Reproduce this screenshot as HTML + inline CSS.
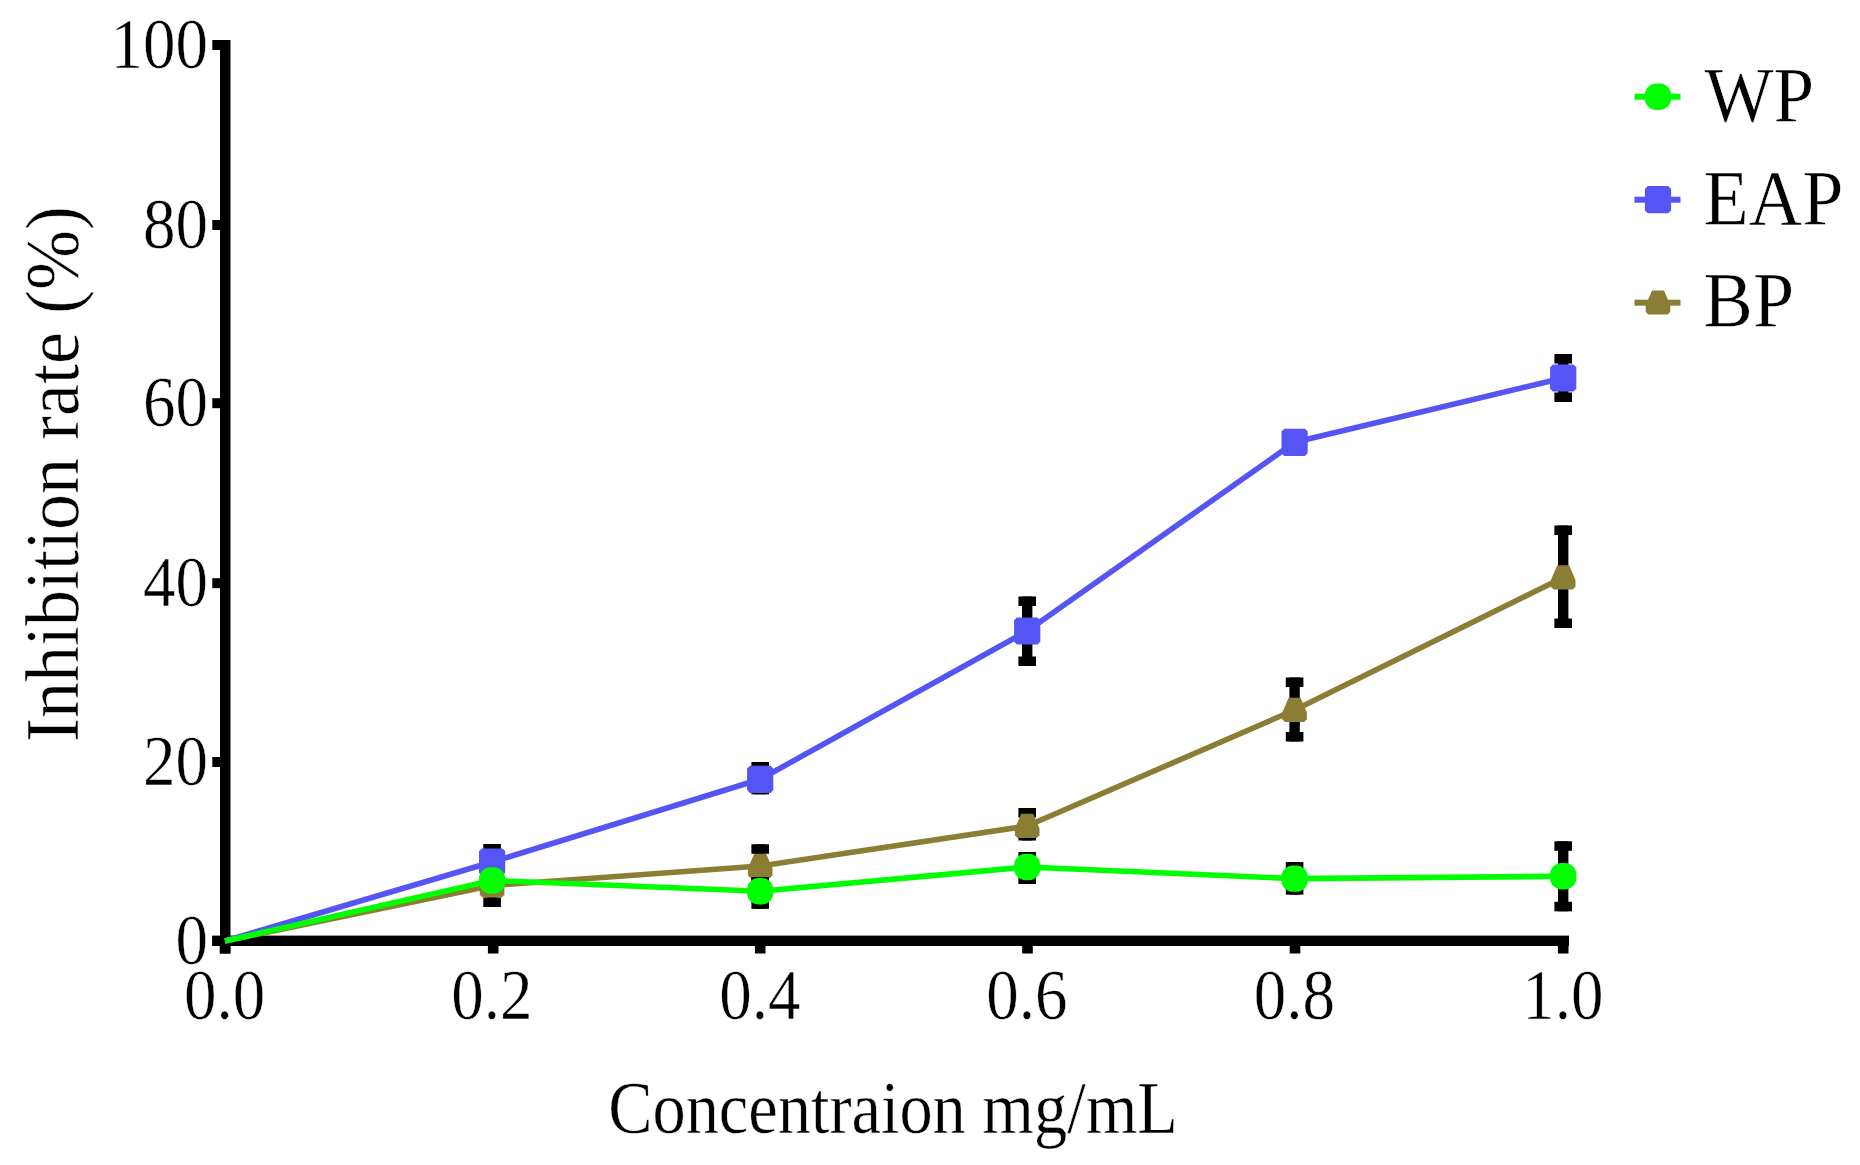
<!DOCTYPE html>
<html lang="en"><head><meta charset="utf-8"><title>Inhibition rate chart</title>
<style>
html,body{margin:0;padding:0;background:#fff;}
body{width:1860px;height:1165px;overflow:hidden;}
svg{display:block;filter:blur(0.6px);font-family:"Liberation Serif","Times New Roman",serif;}
</style></head><body>
<svg width="1860" height="1165" viewBox="0 0 1860 1165">
<rect width="1860" height="1165" fill="#fff"/>
<g fill="#000">
<rect x="220" y="40" width="10.5" height="913.5"/>
<rect x="212.3" y="935.6" width="1356.7" height="10.4"/>
<rect x="212.3" y="936.0" width="10" height="10"/>
<rect x="212.3" y="757.0" width="10" height="10"/>
<rect x="212.3" y="578.2" width="10" height="10"/>
<rect x="212.3" y="398.2" width="10" height="10"/>
<rect x="212.3" y="220.0" width="10" height="10"/>
<rect x="212.3" y="40.0" width="10" height="10"/>
<rect x="219.7" y="940" width="10.6" height="13.5"/>
<rect x="487.9" y="940" width="10.6" height="13.5"/>
<rect x="754.9" y="940" width="10.6" height="13.5"/>
<rect x="1022.2" y="940" width="10.6" height="13.5"/>
<rect x="1289.7" y="940" width="10.6" height="13.5"/>
<rect x="1557.9" y="940" width="10.6" height="13.5"/>
</g>
<g fill="#000"><rect x="486.9" y="862.5" width="10.4" height="44.5"/><rect x="483.3" y="862.5" width="17.6" height="9.5"/><rect x="483.3" y="897.5" width="17.6" height="9.5"/><rect x="755.0" y="844.3" width="10.4" height="42.7"/><rect x="751.4" y="844.3" width="17.6" height="9.5"/><rect x="751.4" y="877.5" width="17.6" height="9.5"/><rect x="1022.0" y="808.0" width="10.4" height="32.5"/><rect x="1018.4" y="808.0" width="17.6" height="9.5"/><rect x="1018.4" y="831.0" width="17.6" height="9.5"/><rect x="1289.4" y="677.5" width="10.4" height="64.0"/><rect x="1285.8" y="677.5" width="17.6" height="9.5"/><rect x="1285.8" y="732.0" width="17.6" height="9.5"/><rect x="1558.0" y="525.5" width="10.4" height="102.5"/><rect x="1554.4" y="525.5" width="17.6" height="9.5"/><rect x="1554.4" y="618.5" width="17.6" height="9.5"/></g>
<polyline points="225.0,941.0 492.1,885.5 760.2,866.0 1027.2,826.0 1294.6,710.0 1563.2,577.5" fill="none" stroke="#8c7d35" stroke-width="5.6" stroke-linejoin="round"/>
<polygon points="486.1,873.3 498.1,873.3 504.4,888.0 504.4,894.7 501.7,897.4 482.5,897.4 479.8,894.7 479.8,888.0" fill="#8c7d35"/><polygon points="754.2,853.8 766.2,853.8 772.5,868.5 772.5,875.2 769.8,877.9 750.6,877.9 747.9,875.2 747.9,868.5" fill="#8c7d35"/><polygon points="1021.2,813.8 1033.2,813.8 1039.5,828.5 1039.5,835.2 1036.8,837.9 1017.6,837.9 1014.9,835.2 1014.9,828.5" fill="#8c7d35"/><polygon points="1288.6,697.8 1300.6,697.8 1306.9,712.5 1306.9,719.2 1304.2,721.9 1285.0,721.9 1282.3,719.2 1282.3,712.5" fill="#8c7d35"/><polygon points="1557.2,565.3 1569.2,565.3 1575.5,580.0 1575.5,586.7 1572.8,589.4 1553.6,589.4 1550.9,586.7 1550.9,580.0" fill="#8c7d35"/>
<g fill="#000"><rect x="486.9" y="844.0" width="10.4" height="36.0"/><rect x="483.3" y="844.0" width="17.6" height="9.5"/><rect x="483.3" y="870.5" width="17.6" height="9.5"/><rect x="755.0" y="762.0" width="10.4" height="32.3"/><rect x="751.4" y="762.0" width="17.6" height="9.5"/><rect x="751.4" y="784.8" width="17.6" height="9.5"/><rect x="1022.0" y="596.5" width="10.4" height="69.5"/><rect x="1018.4" y="596.5" width="17.6" height="9.5"/><rect x="1018.4" y="656.5" width="17.6" height="9.5"/><rect x="1558.0" y="354.0" width="10.4" height="48.0"/><rect x="1554.4" y="354.0" width="17.6" height="9.5"/><rect x="1554.4" y="392.5" width="17.6" height="9.5"/></g>
<polyline points="225.0,941.0 492.1,862.0 760.2,779.3 1027.2,631.0 1294.6,442.3 1563.2,378.0" fill="none" stroke="#5555f5" stroke-width="5.6" stroke-linejoin="round"/>
<polygon points="481.8,848.4 502.4,848.4 505.2,851.2 505.2,872.8 502.4,875.6 481.8,875.6 479.0,872.8 479.0,851.2" fill="#5555f5"/><polygon points="749.9,765.7 770.5,765.7 773.3,768.5 773.3,790.1 770.5,792.9 749.9,792.9 747.1,790.1 747.1,768.5" fill="#5555f5"/><polygon points="1016.9,617.4 1037.5,617.4 1040.3,620.2 1040.3,641.8 1037.5,644.6 1016.9,644.6 1014.1,641.8 1014.1,620.2" fill="#5555f5"/><polygon points="1284.3,428.7 1304.9,428.7 1307.7,431.5 1307.7,453.1 1304.9,455.9 1284.3,455.9 1281.5,453.1 1281.5,431.5" fill="#5555f5"/><polygon points="1552.9,364.4 1573.5,364.4 1576.3,367.2 1576.3,388.8 1573.5,391.6 1552.9,391.6 1550.1,388.8 1550.1,367.2" fill="#5555f5"/>
<g fill="#000"><rect x="486.9" y="872.5" width="10.4" height="16.0"/><rect x="483.3" y="872.5" width="17.6" height="9.5"/><rect x="483.3" y="879.0" width="17.6" height="9.5"/><rect x="755.0" y="877.0" width="10.4" height="31.8"/><rect x="751.4" y="877.0" width="17.6" height="9.5"/><rect x="751.4" y="899.3" width="17.6" height="9.5"/><rect x="1022.0" y="852.0" width="10.4" height="32.0"/><rect x="1018.4" y="852.0" width="17.6" height="9.5"/><rect x="1018.4" y="874.5" width="17.6" height="9.5"/><rect x="1289.4" y="862.1" width="10.4" height="32.5"/><rect x="1285.8" y="862.1" width="17.6" height="9.5"/><rect x="1285.8" y="885.1" width="17.6" height="9.5"/><rect x="1558.0" y="841.3" width="10.4" height="70.0"/><rect x="1554.4" y="841.3" width="17.6" height="9.5"/><rect x="1554.4" y="901.8" width="17.6" height="9.5"/></g>
<polyline points="225.0,941.0 492.1,880.5 760.2,891.3 1027.2,867.0 1294.6,878.6 1563.2,876.3" fill="none" stroke="#00ff00" stroke-width="5.6" stroke-linejoin="round"/>
<rect x="478.9" y="867.3" width="26.4" height="26.4" rx="11.6" fill="#00ff00"/><rect x="747.0" y="878.1" width="26.4" height="26.4" rx="11.6" fill="#00ff00"/><rect x="1014.0" y="853.8" width="26.4" height="26.4" rx="11.6" fill="#00ff00"/><rect x="1281.4" y="865.4" width="26.4" height="26.4" rx="11.6" fill="#00ff00"/><rect x="1550.0" y="863.1" width="26.4" height="26.4" rx="11.6" fill="#00ff00"/>
<g font-size="65" fill="#000" stroke="#fff" stroke-width="0.45">
<text transform="translate(208 963.8) scale(1 1.1)" text-anchor="end">0</text>
<text transform="translate(208 784.8) scale(1 1.1)" text-anchor="end">20</text>
<text transform="translate(208 606.0) scale(1 1.1)" text-anchor="end">40</text>
<text transform="translate(208 426.0) scale(1 1.1)" text-anchor="end">60</text>
<text transform="translate(208 247.8) scale(1 1.1)" text-anchor="end">80</text>
<text transform="translate(208 67.8) scale(1 1.1)" text-anchor="end">100</text>
<text transform="translate(224.7 1018.8) scale(1 1.1)" text-anchor="middle">0.0</text>
<text transform="translate(491.8 1018.8) scale(1 1.1)" text-anchor="middle">0.2</text>
<text transform="translate(759.9 1018.8) scale(1 1.1)" text-anchor="middle">0.4</text>
<text transform="translate(1026.9 1018.8) scale(1 1.1)" text-anchor="middle">0.6</text>
<text transform="translate(1294.3 1018.8) scale(1 1.1)" text-anchor="middle">0.8</text>
<text transform="translate(1562.9 1018.8) scale(1 1.1)" text-anchor="middle">1.0</text>
</g>
<text transform="translate(893 1132.7) scale(1 1.10)" font-size="66.4" text-anchor="middle" stroke="#fff" stroke-width="0.4">Concentraion mg/mL</text>
<text transform="translate(77.5 474) rotate(-90) scale(1 1.05)" font-size="72" text-anchor="middle" stroke="#fff" stroke-width="0.5">Inhibition rate (%)</text>
<rect x="1634.5" y="93.7" width="46" height="6" fill="#00ff00"/>
<rect x="1644.8" y="83.5" width="26.4" height="26.4" rx="11.6" fill="#00ff00"/>
<text transform="translate(1704.6 120.7) scale(1 1.07)" font-size="73" stroke="#fff" stroke-width="0.5">WP</text>
<rect x="1634.5" y="196.7" width="46" height="6" fill="#5555f5"/>
<polygon points="1647.7,186.1 1668.3,186.1 1671.1,188.9 1671.1,210.5 1668.3,213.3 1647.7,213.3 1644.9,210.5 1644.9,188.9" fill="#5555f5"/>
<text transform="translate(1703.6 223.7) scale(1 1.055)" font-size="74" stroke="#fff" stroke-width="0.5">EAP</text>
<rect x="1634.5" y="299.7" width="46" height="6" fill="#8c7d35"/>
<polygon points="1652.0,290.5 1664.0,290.5 1670.3,305.2 1670.3,311.9 1667.6,314.6 1648.4,314.6 1645.7,311.9 1645.7,305.2" fill="#8c7d35"/>
<text transform="translate(1703.6 325.6) scale(1 1.055)" font-size="74" stroke="#fff" stroke-width="0.5">BP</text>
</svg>
</body></html>
